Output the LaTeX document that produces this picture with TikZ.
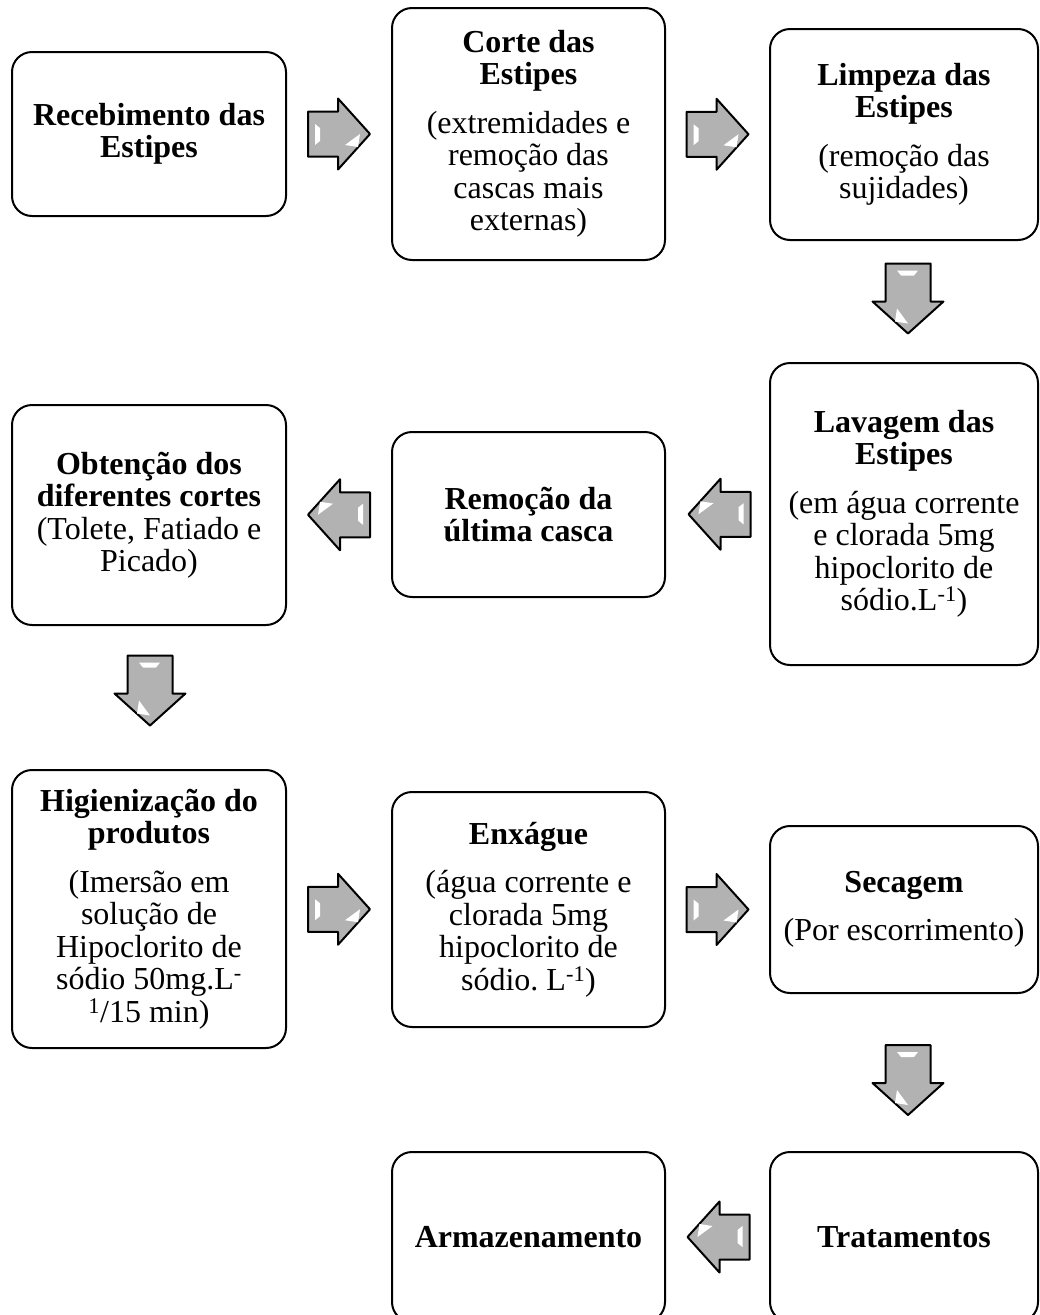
\documentclass[tikz,border=0pt]{standalone}
\usepackage{fontspec}
\setmainfont{Liberation Serif}
\usetikzlibrary{calc}
\frenchspacing
\tikzset{
  box/.style={draw, line width=2pt, rounded corners=20pt, fill=white, align=center,
    inner sep=0pt, font=\fontsize{32}{32.5}\selectfont},
  arrowbody/.style={draw=black, line width=2pt, line join=round, fill=gray!60},
  hl/.style={fill=white, draw=none},
  blockarrow/.pic={
    \path[arrowbody] (-#1,-22.5) -- (#1-32,-22.5) -- (#1-32,-35.5) -- (#1,0)
      -- (#1-32,35.5) -- (#1-32,22.5) -- (-#1,22.5) -- cycle;
    \path[hl] (-#1+7,-10) -- (-#1+12,-6) -- (-#1+12,7) -- (-#1+7,11) -- cycle;
    \path[hl] (#1-10,0) -- (#1-25,11) -- (#1-12,13) -- cycle;
  }
}
\begin{document}
\begin{tikzpicture}[x=1pt,y=-1pt]
\useasboundingbox (0,0) rectangle (1040,1315);
% row 1
\node[box, minimum width=274, minimum height=164] (b1) at (149,134)
  {\textbf{Recebimento das}\\\textbf{Estipes}};
\node[box, minimum width=273, minimum height=252] (b2) at (528.5,134)
  {\textbf{Corte das}\\\textbf{Estipes}\\[16pt](extremidades e\\remoção das\\cascas mais\\externas)};
\node[box, minimum width=268, minimum height=211] (b3) at (904,134.5)
  {\textbf{Limpeza das}\\\textbf{Estipes}\\[16pt](remoção das\\sujidades)};
% row 2
\node[box, minimum width=274, minimum height=220] (b4) at (149,515)
  {\textbf{Obtenção dos}\\\textbf{diferentes cortes}\\(Tolete, Fatiado e\\Picado)};
\node[box, minimum width=273, minimum height=165] (b5) at (528.5,514.5)
  {\textbf{Remoção da}\\\textbf{última casca}};
\node[box, minimum width=268, minimum height=302] (b6) at (904,514)
  {\textbf{Lavagem das}\\\textbf{Estipes}\\[16pt](em água corrente\\e clorada 5mg\\hipoclorito de\\sódio.L\textsuperscript{-1})};
% row 3
\node[box, minimum width=274, minimum height=278] (b7) at (149,909)
  {\textbf{Higienização do}\\\textbf{produtos}\\[16pt](Imersão em\\solução de\\Hipoclorito de\\sódio 50mg.L\textsuperscript{-}\\\textsuperscript{1}/15 min)};
\node[box, minimum width=273, minimum height=235] (b8) at (528.5,909.5)
  {\textbf{Enxágue}\\[16pt](água corrente e\\clorada 5mg\\hipoclorito de\\sódio. L\textsuperscript{-1})};
\node[box, minimum width=268, minimum height=167] (b9) at (904,909.5)
  {\textbf{Secagem}\\[16pt](Por escorrimento)};
% row 4
\node[box, minimum width=273, minimum height=170] (b10) at (528.5,1237)
  {\textbf{Armazenamento}};
\node[box, minimum width=268, minimum height=170] (b11) at (904,1237)
  {\textbf{Tratamentos}};
% arrows
\pic at ($(b1.east)!0.5!(b2.west)$) {blockarrow=31};
\pic at ($(b2.east)!0.5!(b3.west)$) {blockarrow=31};
\pic[rotate=-90] at ($(b3.south)!0.5!(b6.north)+(4,-3)$) {blockarrow=35};
\pic[rotate=180] at ($(b6.west)!0.5!(b5.east)+(2,0)$) {blockarrow=31};
\pic[rotate=180] at ($(b5.west)!0.5!(b4.east)$) {blockarrow=31};
\pic[rotate=-90] at ($(b4.south)!0.5!(b7.north)+(1,-7)$) {blockarrow=35};
\pic at ($(b7.east)!0.5!(b8.west)$) {blockarrow=31};
\pic at ($(b8.east)!0.5!(b9.west)$) {blockarrow=31};
\pic[rotate=-90] at ($(b9.south)!0.5!(b11.north)+(4,7.5)$) {blockarrow=35};
\pic[rotate=180] at ($(b11.west)!0.5!(b10.east)+(1,0)$) {blockarrow=31};
\end{tikzpicture}
\end{document}
